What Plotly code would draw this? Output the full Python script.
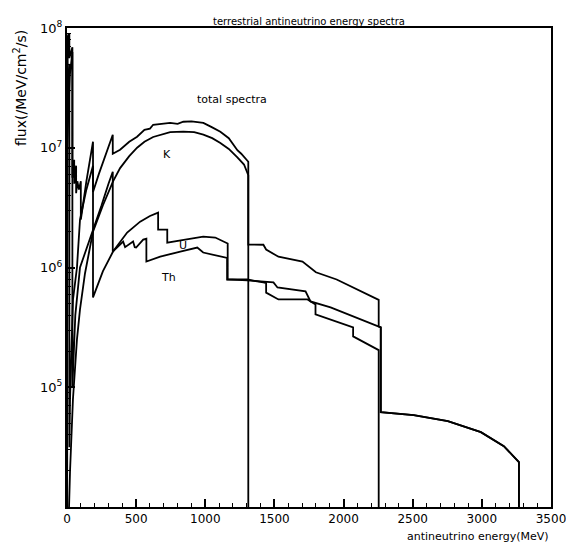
import numpy as np
import plotly.graph_objects as go

# Antineutrino energy (keV scale, labelled MeV on the axis) and log10 of the flux.
# Repeated energies mark the abrupt end-points of the beta branches.
total_energy = [0, 1, 5, 12, 17, 17, 28, 39, 39, 46, 52, 52, 60, 66, 66, 75, 86, 94, 100, 100,
                140, 188, 188, 230, 280, 331, 331, 384, 450, 507, 560, 600, 623, 690, 746, 800,
                841, 900, 986, 1050, 1109, 1170, 1232, 1260, 1290, 1311, 1311, 1420, 1440, 1529,
                1703, 1783, 1800, 1950, 2072, 2150, 2246, 2254, 2254, 2269, 2269, 2507, 2754,
                2993, 3159, 3268, 3268]
total_log = [3.0, 7.7, 7.93, 7.95, 7.95, 7.75, 7.8, 7.84, 6.75, 6.88, 6.9, 6.7, 6.82, 6.85, 6.62,
             6.72, 6.65, 6.7, 6.72, 6.4, 6.72, 7.05, 6.63, 6.78, 6.95, 7.108, 6.95, 6.983, 7.05,
             7.092, 7.15, 7.16, 7.192, 7.2, 7.208, 7.2, 7.217, 7.22, 7.208, 7.17, 7.133, 7.08,
             6.98, 6.95, 6.915, 6.883, 6.192, 6.19, 6.15, 6.09, 6.05, 5.98, 5.96, 5.9, 5.833,
             5.79, 5.733, 5.73, 5.508, 5.5, 4.792, 4.767, 4.717, 4.625, 4.508, 4.375, 3.0]

k_energy = [0, 10, 22, 43, 72, 94, 130, 188, 260, 333, 384, 450, 507, 560, 623, 690, 746, 841,
            920, 986, 1050, 1109, 1170, 1232, 1280, 1311, 1311]
k_log = [3.0, 3.8, 4.3, 4.9, 5.4, 5.65, 5.95, 6.3, 6.52, 6.72, 6.83, 6.93, 7.0, 7.05, 7.09, 7.115,
         7.13, 7.135, 7.13, 7.11, 7.08, 7.04, 6.99, 6.92, 6.86, 6.77, 3.0]

u_energy = [0, 1, 10, 17, 17, 22, 36, 43, 72, 94, 140, 188, 188, 260, 333, 435, 529, 600, 659,
            659, 725, 725, 855, 985, 1072, 1145, 1162, 1162, 1304, 1493, 1522, 1725, 1761, 1906,
            2254, 2269, 2269, 2507, 2754, 2993, 3159, 3268, 3268]
u_log = [3.0, 7.3, 7.6, 7.7, 4.5, 4.9, 5.46, 5.73, 6.0, 6.4, 6.65, 6.85, 5.75, 5.97, 6.133, 6.292,
         6.383, 6.43, 6.458, 6.317, 6.317, 6.208, 6.233, 6.258, 6.25, 6.208, 6.2, 5.9, 5.892,
         5.875, 5.833, 5.8, 5.717, 5.667, 5.508, 5.5, 4.792, 4.767, 4.717, 4.625, 4.508, 4.375,
         3.0]

th_energy = [0, 1, 20, 39, 39, 60, 94, 140, 188, 250, 300, 331, 331, 406, 420, 442, 478, 490,
             500, 551, 574, 574, 674, 819, 942, 985, 1145, 1158, 1158, 1304, 1420, 1440, 1440,
             1529, 1739, 1797, 1797, 2051, 2069, 2069, 2246, 2254, 2254]
th_log = [3.0, 7.0, 7.6, 7.8, 5.0, 5.6, 6.0, 6.15, 6.3, 6.52, 6.7, 6.8, 6.133, 6.217, 6.17, 6.19,
          6.217, 6.17, 6.167, 6.233, 6.24, 6.05, 6.09, 6.133, 6.167, 6.125, 6.083, 6.08, 5.9,
          5.9, 5.875, 5.87, 5.79, 5.733, 5.733, 5.692, 5.608, 5.508, 5.5, 5.425, 5.317, 5.31,
          3.0]

x_ticks = [0, 500, 1000, 1500, 2000, 2500, 3000, 3500]
y_ticks = [1e5, 1e6, 1e7, 1e8]
y_tick_text = ["10<sup>5</sup>", "10<sup>6</sup>", "10<sup>7</sup>", "10<sup>8</sup>"]

curve_labels = [("total spectra", 1196, 10 ** 7.4), ("K", 725, 10 ** 6.94),
                ("U", 840, 10 ** 6.18), ("Th", 732, 10 ** 5.92)]

# minor tick positions: every 100 along energy, 2..9 within each decade of flux
x_minor = [v for v in range(100, 3500, 100) if v % 500]
y_minor = [m * 10 ** d for d in range(4, 8) for m in range(2, 10)]

FONT = "DejaVu Sans"
line_style = dict(color="black", width=1.8)
X_RANGE = [0, 3500]

fig = go.Figure()
for name, e, lg in [("total", total_energy, total_log), ("K", k_energy, k_log),
                    ("U", u_energy, u_log), ("Th", th_energy, th_log)]:
    fig.add_trace(go.Scatter(x=e, y=10 ** np.array(lg), mode="lines", name=name,
                             line=line_style, showlegend=False, hoverinfo="skip"))

for text, x, y in curve_labels:
    fig.add_annotation(x=x, y=np.log10(y), text=text, showarrow=False,
                       font=dict(family=FONT, size=11, color="black"))

fig.add_annotation(xref="paper", yref="paper", x=0.5, y=1.0, yshift=14,
                   text="terrestrial antineutrino energy spectra", showarrow=False,
                   font=dict(family=FONT, size=10, color="black"))
fig.add_annotation(xref="paper", yref="paper", x=1.0, y=0, yshift=-29, xanchor="right",
                   yanchor="middle", text="antineutrino energy(MeV)", showarrow=False,
                   font=dict(family=FONT, size=11, color="black"))
fig.add_annotation(xref="paper", yref="paper", x=0, xshift=-47, xanchor="center",
                   y=1.0, yanchor="top", textangle=-90,
                   text="flux(/MeV/cm<sup>2</sup>/s)", showarrow=False,
                   font=dict(family=FONT, size=14, color="black"))

fig.update_layout(
    width=566, height=543, margin=dict(l=67, r=15, t=28, b=36),
    paper_bgcolor="white", plot_bgcolor="white",
    xaxis=dict(range=X_RANGE, tickmode="array", tickvals=x_ticks, ticks="inside",
               ticklen=8, tickwidth=1.5, tickcolor="black", layer="above traces",
               showgrid=False, zeroline=False, showline=True, linecolor="black",
               linewidth=2, mirror=True, ticklabeloverflow="allow", automargin=False,
               tickfont=dict(family=FONT, size=12, color="black")),
    yaxis=dict(type="log", range=[4, 8], tickmode="array", tickvals=y_ticks,
               ticktext=y_tick_text, ticks="inside", ticklen=8, tickwidth=1.5,
               tickcolor="black", layer="above traces", showgrid=False, zeroline=False,
               showline=True, linecolor="black", linewidth=2, mirror=True,
               automargin=False, tickfont=dict(family=FONT, size=13, color="black")),
    # overlay axes carrying only the short minor ticks
    xaxis2=dict(overlaying="x", matches="x", side="bottom", range=X_RANGE,
                tickmode="array", tickvals=x_minor, ticks="inside", ticklen=4,
                tickwidth=1.2, tickcolor="black", showticklabels=False, showgrid=False,
                zeroline=False, showline=False, automargin=False),
    yaxis2=dict(overlaying="y", matches="y", side="left", type="log", range=[4, 8],
                tickmode="array", tickvals=y_minor, ticks="inside", ticklen=4,
                tickwidth=1.2, tickcolor="black", showticklabels=False, showgrid=False,
                zeroline=False, showline=False, automargin=False),
)
# an invisible trace binds the overlay axes so they are drawn
fig.add_trace(go.Scatter(x=[1000], y=[1e6], xaxis="x2", yaxis="y2", mode="markers",
                         marker=dict(opacity=0), showlegend=False, hoverinfo="skip"))

fig.write_html("out.html")
